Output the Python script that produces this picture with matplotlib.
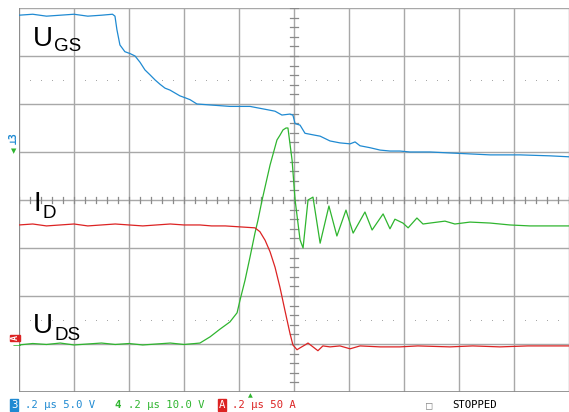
import numpy as np
import matplotlib
matplotlib.use("Agg")
import matplotlib.pyplot as plt

# ---- data (time in microseconds) ----
t_ugs = [-1.000, -0.95, -0.90, -0.85, -0.80, -0.75, -0.70, -0.66, -0.651, -0.644, -0.633,
         -0.615, -0.596, -0.578, -0.560, -0.542, -0.524, -0.505, -0.487, -0.469, -0.451,
         -0.433, -0.415, -0.396, -0.378, -0.353, -0.305, -0.233, -0.160, -0.142, -0.105,
         -0.069, -0.044, -0.015, -0.004, 0.004, 0.022, 0.040, 0.076, 0.095, 0.131, 0.167,
         0.204, 0.222, 0.240, 0.276, 0.313, 0.349, 0.385, 0.422, 0.495, 0.567, 0.640,
         0.713, 0.822, 0.931, 1.000]
u_gs = [13.0, 13.1, 12.9, 13.0, 13.1, 12.9, 13.0, 13.1, 12.9, 11.5, 9.9,
        9.2, 9.0, 8.75, 8.1, 7.3, 6.8, 6.25, 5.8, 5.4, 5.2,
        4.9, 4.6, 4.4, 4.2, 3.75, 3.65, 3.5, 3.5, 3.4, 3.2,
        3.0, 2.6, 2.7, 2.6, 1.7, 1.55, 0.7, 0.5, 0.4, -0.1, -0.3,
        -0.4, -0.2, -0.6, -0.8, -1.05, -1.15, -1.15, -1.25, -1.25, -1.35, -1.45,
        -1.55, -1.55, -1.65, -1.75]

t_uds = [-1.000, -0.95, -0.90, -0.85, -0.80, -0.75, -0.70, -0.65, -0.60, -0.55, -0.50,
         -0.45, -0.40, -0.36, -0.342, -0.305, -0.269, -0.233, -0.207, -0.196, -0.178,
         -0.160, -0.142, -0.131, -0.116, -0.087, -0.062, -0.051, -0.040, -0.029, -0.022,
         -0.007, 0.004, 0.022, 0.033, 0.051, 0.069, 0.095, 0.127, 0.156, 0.189, 0.215,
         0.258, 0.284, 0.324, 0.349, 0.367, 0.396, 0.415, 0.447, 0.469, 0.495, 0.549,
         0.585, 0.640, 0.713, 0.785, 0.858, 0.931, 1.000]
u_ds = [-0.2, 0.1, -0.1, 0.2, -0.2, 0.0, 0.2, -0.1, 0.1, -0.2, 0.0,
        0.2, -0.1, 0.1, 0.2, 1.5, 3.1, 4.6, 6.5, 9.2, 13.3,
        18.1, 23.1, 25.8, 30.0, 37.3, 42.5, 43.5, 44.6, 45.0, 45.0,
        38.3, 30.0, 21.7, 20.0, 30.0, 30.6, 21.0, 28.75, 22.5, 27.9, 23.1,
        27.5, 23.75, 27.1, 24.0, 26.0, 25.2, 24.2, 26.25, 25.0, 25.2, 25.6,
        25.0, 25.4, 25.2, 24.8, 24.6, 24.6, 24.6]

t_id = [-1.000, -0.95, -0.90, -0.85, -0.80, -0.75, -0.70, -0.65, -0.60, -0.55, -0.50,
        -0.45, -0.40, -0.342, -0.30, -0.25, -0.196, -0.142, -0.124, -0.105, -0.087,
        -0.069, -0.051, -0.033, -0.015, -0.004, 0.011, 0.022, 0.040, 0.051, 0.069,
        0.087, 0.105, 0.131, 0.167, 0.204, 0.240, 0.313, 0.385, 0.450, 0.567, 0.650,
        0.749, 0.850, 1.000]
i_d = [124, 125, 123, 124, 125, 123, 124, 125, 124, 123, 124,
       125, 124, 124, 123, 123, 122, 121, 117, 108, 96,
       80, 59, 35, 11.5, -1, -6, -4, -1, 1, -3,
       -7, -2, -3, -2, -5, -2, -3, -3, -2, -3, -2,
       -3, -2, -2]

# channel settings (scale per division, ground position in divisions)
ch3_scale, ch3_gnd = 5.0, 1.25
ch4_scale, ch4_gnd = 10.0, -3.0
chA_scale, chA_gnd = 50.0, -3.0

col_blue = "#1f8ad2"
col_green = "#2fb52f"
col_red = "#dc2323"
grid_col = "#a8a8a8"

W, H = 569, 412
fig = plt.figure(figsize=(W / 100, H / 100), dpi=100)
fig.patch.set_facecolor("white")
ax = fig.add_axes([19 / W, 20 / H, 550 / W, 384 / H])
ax.set_xlim(-1, 1)
ax.set_ylim(-4, 4)
ax.axis("off")

# graticule
for xv in np.arange(-1, 1.0001, 0.2):
    ax.axvline(xv, color=grid_col, lw=1.0, zorder=1)
for yv in range(-4, 5):
    ax.axhline(yv, color=grid_col, lw=1.0, zorder=1)
ax.axhline(-4, color="#888888", lw=1.2, zorder=1)
ax.axvline(-1, color="#888888", lw=1.2, zorder=1)

# center axis ticks
for xv in np.arange(-1, 1.0001, 0.04):
    ax.plot([xv, xv], [-0.065, 0.065], color="#8a8a8a", lw=0.9, zorder=1)
for yv in np.arange(-4, 4.0001, 0.2):
    ax.plot([-0.015, 0.015], [yv, yv], color="#8a8a8a", lw=0.9, zorder=1)
# dotted rows
dots_x = [v for v in np.arange(-1, 1.0001, 0.04) if abs(v / 0.2 - round(v / 0.2)) > 0.05]
for yv in (2.5, -2.5):
    ax.plot(dots_x, [yv] * len(dots_x), ls="none", marker="s", ms=0.6, mew=0,
            color="#a0a0a0", zorder=1)

# traces on overlaid axes with per-channel scales
def chan_axes(scale, gnd):
    a = fig.add_axes(ax.get_position(), sharex=ax)
    a.set_ylim((-4 - gnd) * scale, (4 - gnd) * scale)
    a.patch.set_alpha(0)
    a.axis("off")
    return a

a3 = chan_axes(ch3_scale, ch3_gnd)
a3.plot(t_ugs, u_gs, color=col_blue, lw=0.9)
a4 = chan_axes(ch4_scale, ch4_gnd)
a4.plot(t_uds, u_ds, color=col_green, lw=0.9)
aA = chan_axes(chA_scale, chA_gnd)
aA.plot(t_id, i_d, color=col_red, lw=0.9)

def px(x, y):
    return x / W, 1 - y / H

lab_font = "Liberation Sans"
fig.text(*px(33, 46), "U", fontsize=20, family=lab_font, va="baseline")
fig.text(*px(54, 51), "GS", fontsize=13.5, family=lab_font, va="baseline")
fig.text(*px(34, 211), "I", fontsize=20, family=lab_font, va="baseline")
fig.text(*px(42, 218), "D", fontsize=13.5, family=lab_font, va="baseline")
fig.text(*px(33, 333), "U", fontsize=20, family=lab_font, va="baseline")
fig.text(*px(54, 340), "DS", fontsize=13.5, family=lab_font, va="baseline")

# left channel markers
fig.text(*px(14, 138), "\u22a53", fontsize=7, color=col_blue, rotation=90,
         ha="center", va="center", family="DejaVu Sans Mono", fontweight="bold")
fig.text(*px(14, 151), "\u25bc", fontsize=5, color=col_green, ha="center", va="center")
fig.text(*px(15, 338), "A", fontsize=6, color="white", rotation=90, ha="center", va="center",
         family="DejaVu Sans Mono", fontweight="bold",
         bbox=dict(boxstyle="square,pad=0.1", fc=col_red, ec=col_red))
fig.text(*px(17, 346), "\u2014", fontsize=6, color=col_green, ha="center", va="center")

# trigger marker
fig.text(*px(250, 396), "\u25b2", fontsize=4.5, color=col_green, ha="center", va="center")

# status line
mono = "DejaVu Sans Mono"
fs = 7.7
yb = 408
fig.text(*px(11, yb), "3", fontsize=fs, family=mono, color="white", va="baseline",
         bbox=dict(boxstyle="square,pad=0.05", fc=col_blue, ec=col_blue))
fig.text(*px(25, yb), ".2 \u00b5s 5.0 V", fontsize=fs, family=mono, color=col_blue, va="baseline")
fig.text(*px(114, yb), "4", fontsize=fs, family=mono, color=col_green, va="baseline",
         fontweight="bold")
fig.text(*px(128, yb), ".2 \u00b5s 10.0 V", fontsize=fs, family=mono, color=col_green, va="baseline")
fig.text(*px(219, yb), "A", fontsize=fs, family=mono, color="white", va="baseline",
         bbox=dict(boxstyle="square,pad=0.05", fc=col_red, ec=col_red))
fig.text(*px(232, yb), ".2 \u00b5s 50 A", fontsize=fs, family=mono, color=col_red, va="baseline")
fig.text(*px(426, yb), "\u25a1", fontsize=fs, family=mono, color="#888888", va="baseline")
fig.text(*px(452, yb), "STOPPED", fontsize=fs, family=mono, color="black", va="baseline")

fig.savefig("out.png", dpi=100, facecolor="white")
